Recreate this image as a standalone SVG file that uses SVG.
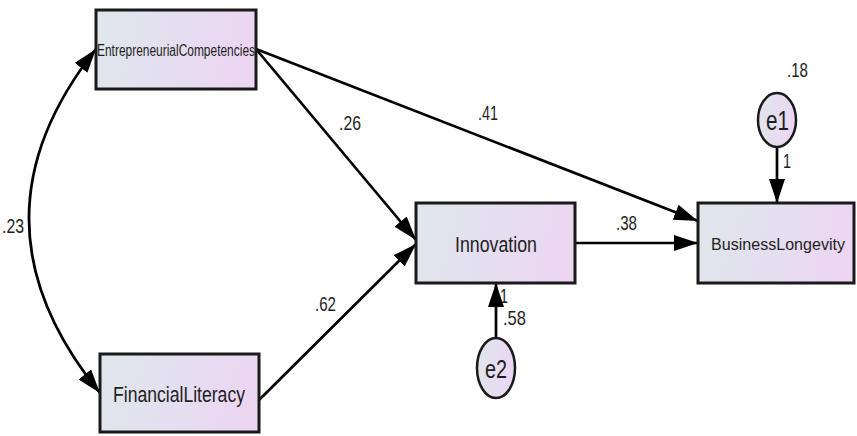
<svg xmlns="http://www.w3.org/2000/svg" width="857" height="436" viewBox="0 0 857 436">
<defs>
<linearGradient id="g" x1="0" y1="0" x2="1" y2="0.15">
<stop offset="0" stop-color="#dfe7ea"/>
<stop offset="0.5" stop-color="#e4dff0"/>
<stop offset="1" stop-color="#ecd6f2"/>
</linearGradient>
<marker id="ah" viewBox="0 0 24 16" refX="24" refY="8" markerWidth="24" markerHeight="16" markerUnits="userSpaceOnUse" orient="auto-start-reverse">
<path d="M0,0 L24,8 L0,16 Z" fill="#000"/>
</marker>
</defs>
<style>
.box{fill:url(#g);stroke:#1a1a1a;stroke-width:3}
.ell{fill:url(#g);stroke:#1a1a1a;stroke-width:2.5}
.lbl{font-family:"Liberation Sans Narrow","Liberation Sans",Arial,sans-serif;fill:#1e1e1e}
.num{font-family:"Liberation Sans Narrow","Liberation Sans",Arial,sans-serif;font-size:21px;fill:#1e1e1e}
.c{fill:none;stroke:#000;stroke-width:2.7;marker-end:url(#ah)}
</style>
<rect width="857" height="436" fill="#fff"/>
<g id="connectors">
<path class="c" d="M100,393 Q-40,221 96,49" style="marker-start:url(#ah)"/>
<line class="c" x1="256" y1="49" x2="416" y2="240"/>
<line class="c" x1="259" y1="400" x2="416" y2="244"/>
<line class="c" x1="256" y1="49" x2="698" y2="221"/>
<line class="c" x1="575" y1="243" x2="698" y2="243"/>
<line class="c" x1="777" y1="147" x2="777" y2="203"/>
<line class="c" x1="496" y1="338" x2="496" y2="283"/>
</g>
<g id="labels">
<text class="num" x="2" y="233" textLength="22" lengthAdjust="spacingAndGlyphs">.23</text>
<text class="num" x="339" y="130" textLength="22" lengthAdjust="spacingAndGlyphs">.26</text>
<text class="num" x="478" y="120" textLength="20" lengthAdjust="spacingAndGlyphs">.41</text>
<text class="num" x="616" y="230" textLength="21" lengthAdjust="spacingAndGlyphs">.38</text>
<text class="num" x="315" y="311" textLength="21" lengthAdjust="spacingAndGlyphs">.62</text>
<text class="num" x="787" y="77" textLength="21" lengthAdjust="spacingAndGlyphs">.18</text>
<text class="num" x="783" y="168" textLength="8" lengthAdjust="spacingAndGlyphs">1</text>
<text class="num" x="500" y="303" textLength="8" lengthAdjust="spacingAndGlyphs">1</text>
<text class="num" x="503" y="325" textLength="23" lengthAdjust="spacingAndGlyphs">.58</text>
</g>
<g id="EntrepreneurialCompetencies">
<rect class="box" x="96" y="10" width="160" height="79"/>
<text class="lbl" x="97" y="56" font-size="16" textLength="158" lengthAdjust="spacingAndGlyphs">EntrepreneurialCompetencies</text>
</g>
<g id="FinancialLiteracy">
<rect class="box" x="100" y="354" width="159" height="78"/>
<text class="lbl" x="113" y="402" font-size="22" textLength="132" lengthAdjust="spacingAndGlyphs">FinancialLiteracy</text>
</g>
<g id="Innovation">
<rect class="box" x="416" y="203" width="159" height="80"/>
<text class="lbl" x="455" y="252" font-size="22" textLength="82" lengthAdjust="spacingAndGlyphs">Innovation</text>
</g>
<g id="BusinessLongevity">
<rect class="box" x="698" y="203" width="156" height="80"/>
<text class="lbl" x="778" y="250" font-size="17" text-anchor="middle" textLength="134" lengthAdjust="spacingAndGlyphs">BusinessLongevity</text>
</g>
<g id="e1">
<ellipse class="ell" cx="777" cy="120" rx="19" ry="27"/>
<text class="lbl" x="766" y="130" font-size="27" textLength="23" lengthAdjust="spacingAndGlyphs">e1</text>
</g>
<g id="e2">
<ellipse class="ell" cx="496" cy="368" rx="19" ry="30"/>
<text class="lbl" x="485" y="378" font-size="26" textLength="22" lengthAdjust="spacingAndGlyphs">e2</text>
</g>
</svg>
